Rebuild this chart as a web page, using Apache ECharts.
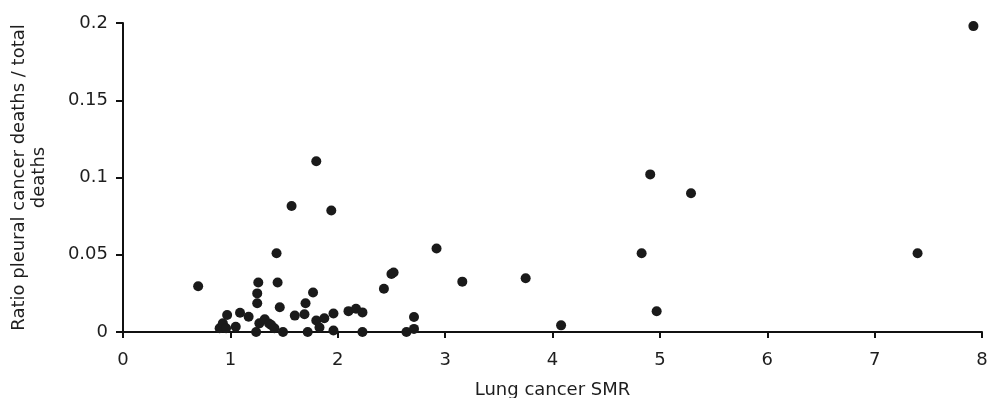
<!DOCTYPE html>
<html>
<head>
<meta charset="utf-8">
<script src="https://cdn.jsdelivr.net/npm/echarts@6/dist/echarts.min.js"></script>
<style>
  html, body { margin: 0; padding: 0; background: #fff; }
  #chart { width: 987px; height: 398px; }
</style>
</head>
<body>
<div id="chart"></div>
<script>
// Lung cancer SMR per area (x)
const smr = [
  0.70, 0.90, 0.93, 0.96, 0.97, 1.05, 1.09, 1.17,
  1.26, 1.25, 1.25, 1.24, 1.27, 1.32, 1.36, 1.38, 1.41,
  1.43, 1.44, 1.46, 1.49, 1.57, 1.60, 1.69, 1.70, 1.72,
  1.77, 1.80, 1.80, 1.83, 1.875, 1.94, 1.96, 1.96,
  2.10, 2.17, 2.23, 2.23, 2.43, 2.50, 2.52, 2.64, 2.71, 2.71,
  2.92, 3.16, 3.75, 4.08, 4.83, 4.91, 4.97, 5.29, 7.40, 7.92
];
// Ratio of pleural cancer deaths to total deaths (y)
const pleuralRatio = [
  0.0296, 0.0024, 0.0056, 0.0024, 0.011, 0.0034, 0.0125, 0.0099,
  0.032, 0.025, 0.0186, 0.0, 0.0056, 0.0082, 0.0055, 0.0045, 0.0024,
  0.051, 0.032, 0.016, 0.0, 0.0816, 0.0106, 0.0115, 0.0186, 0.0,
  0.0256, 0.1105, 0.0075, 0.0029, 0.0089, 0.0786, 0.012, 0.001,
  0.0135, 0.015, 0.0127, 0.0, 0.028, 0.0375, 0.0385, 0.0, 0.0097, 0.002,
  0.054, 0.0326, 0.0348, 0.0043, 0.051, 0.102, 0.0134, 0.0898, 0.051, 0.198
];
const xTicks = { min: 0, max: 8, step: 1 };
const yTicks = { min: 0, max: 0.2, step: 0.05 };

const points = smr.map((x, i) => [x, pleuralRatio[i]]);

const textColor = '#1e1e1e';
const font = 'DejaVu Sans';

const chart = echarts.init(document.getElementById('chart'), null, { renderer: 'canvas' });
chart.setOption({
  animation: false,
  backgroundColor: '#fff',
  grid: {
    left: 123, right: 5, top: 23, bottom: 66,
    containLabel: false,
    outerBoundsMode: 'none'
  },
  xAxis: {
    type: 'value',
    min: xTicks.min, max: xTicks.max, interval: xTicks.step,
    name: 'Lung cancer SMR',
    nameLocation: 'middle',
    nameGap: 49,
    nameTextStyle: { color: textColor, fontFamily: font, fontSize: 18 },
    axisLine: { show: true, lineStyle: { color: '#111', width: 2 } },
    axisTick: { show: true, inside: false, length: 6, lineStyle: { color: '#111', width: 2 } },
    axisLabel: { color: textColor, fontFamily: font, fontSize: 18, margin: 19 },
    splitLine: { show: false }
  },
  yAxis: {
    type: 'value',
    min: yTicks.min, max: yTicks.max, interval: yTicks.step,
    name: 'Ratio pleural cancer deaths / total\ndeaths',
    nameLocation: 'middle',
    nameGap: 74,
    nameRotate: 90,
    nameTextStyle: { color: textColor, fontFamily: font, fontSize: 18, lineHeight: 20, align: 'center' },
    axisLine: { show: true, lineStyle: { color: '#111', width: 2 } },
    axisTick: { show: true, inside: false, length: 7, lineStyle: { color: '#111', width: 2 } },
    axisLabel: { color: textColor, fontFamily: font, fontSize: 18, margin: 15 },
    splitLine: { show: false }
  },
  series: [{
    type: 'scatter',
    data: points,
    symbol: 'circle',
    symbolSize: 10,
    itemStyle: { color: '#1a1a1a', opacity: 1 },
    clip: false
  }]
});
</script>
</body>
</html>
